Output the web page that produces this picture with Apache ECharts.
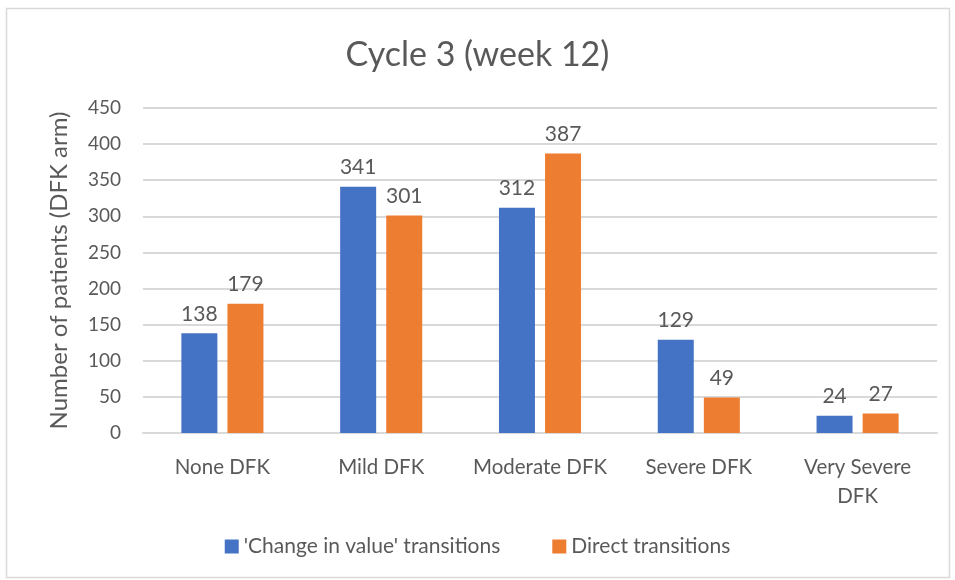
<!DOCTYPE html>
<html>
<head>
<meta charset="utf-8">
<script src="https://cdn.jsdelivr.net/npm/echarts@6/dist/echarts.min.js"></script>
<style>
  html, body { margin: 0; padding: 0; background: #fff; }
  #chart { width: 955px; height: 580px; }
</style>
</head>
<body>
<div id="chart"></div>
<script>
const categories = ['None DFK', 'Mild DFK', 'Moderate DFK', 'Severe DFK', 'Very Severe\nDFK']
const changeInValue = [138, 341, 312, 129, 24]
const directTransitions = [179, 301, 387, 49, 27]
const seriesNames = ["'Change in value' transitions", 'Direct transitions']

const textColor = '#595959'
const font = 'Lato, "Open Sans", sans-serif'

const chart = echarts.init(document.getElementById('chart'))

chart.setOption({
  animation: false,
  textStyle: { fontFamily: font },
  graphic: [{
    type: 'rect',
    shape: { x: 6.5, y: 8.5, width: 943, height: 569 },
    style: { fill: 'none', stroke: '#d9d9d9', lineWidth: 1.5 },
    silent: true
  }],
  title: {
    text: 'Cycle 3 (week 12)',
    left: 'center',
    top: 33,
    textStyle: { fontFamily: font, fontSize: 34, fontWeight: 'normal', color: textColor }
  },
  legend: {
    bottom: 18,
    left: 'center',
    itemWidth: 14,
    itemHeight: 14,
    itemGap: 52,
    icon: 'rect',
    textStyle: { fontFamily: font, fontSize: 21, color: textColor },
    data: seriesNames
  },
  grid: { left: 143, right: 18, top: 108, bottom: 147 },
  xAxis: {
    type: 'category',
    data: categories,
    axisLine: { lineStyle: { color: '#d9d9d9', width: 2 } },
    axisTick: { show: false },
    axisLabel: { interval: 0, hideOverlap: false, color: textColor, fontSize: 20.5, margin: 20, lineHeight: 29, fontFamily: font }
  },
  yAxis: {
    type: 'value',
    min: 0,
    max: 450,
    interval: 50,
    name: 'Number of patients (DFK arm)',
    nameLocation: 'middle',
    nameGap: 72,
    nameTextStyle: { color: textColor, fontSize: 24, fontFamily: font },
    axisLine: { show: false },
    axisTick: { show: false },
    axisLabel: { color: textColor, fontSize: 19, margin: 22, fontFamily: font },
    splitLine: { lineStyle: { color: '#d9d9d9', width: 2 } }
  },
  series: [
    {
      name: seriesNames[0],
      type: 'bar',
      data: changeInValue,
      barWidth: 36,
      barGap: '28%',
      itemStyle: { color: '#4472C4' },
      label: { show: true, position: 'top', distance: 9, color: textColor, fontSize: 21, fontFamily: font }
    },
    {
      name: seriesNames[1],
      type: 'bar',
      data: directTransitions,
      barWidth: 36,
      itemStyle: { color: '#ED7D31' },
      label: { show: true, position: 'top', distance: 9, color: textColor, fontSize: 21, fontFamily: font }
    }
  ]
})
</script>
</body>
</html>
